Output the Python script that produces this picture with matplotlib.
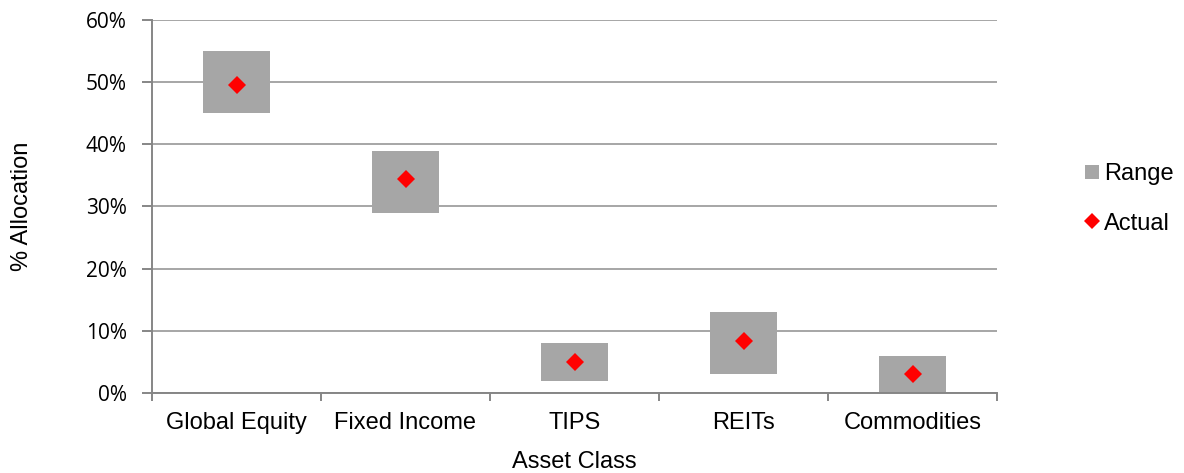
import matplotlib
matplotlib.use("Agg")
import matplotlib.pyplot as plt
from matplotlib.ticker import FuncFormatter, FixedLocator
from matplotlib.lines import Line2D

# Target allocation ranges and actual weights (percent)
categories = ["Global Equity", "Fixed Income", "TIPS", "REITs", "Commodities"]
range_low = [45, 29, 2, 3, 0]
range_high = [55, 39, 8, 13, 6]
actual = [49.5, 34.4, 5.0, 8.3, 3.1]

box_color = "#A6A6A6"
grid_color = "#A6A6A6"
spine_color = "#868686"

fig = plt.figure(figsize=(11.84, 4.73), dpi=100)
ax = fig.add_axes([152 / 1184, 80 / 473, (997 - 152) / 1184, (393 - 20) / 473])

x = list(range(len(categories)))
heights = [h - l for h, l in zip(range_high, range_low)]
ax.bar(x, heights, bottom=range_low, width=0.4, color=box_color,
       edgecolor="none", zorder=2)
ax.plot(x, actual, linestyle="none", marker="D", markersize=9.2,
        color="#FF0000", markeredgewidth=0, zorder=3)

ax.set_xlim(-0.5, len(categories) - 0.5)
ax.set_ylim(0, 60)
ax.set_yticks(range(0, 61, 10))
ax.yaxis.set_major_formatter(FuncFormatter(lambda v, _: f"{v:.0f}%"))
ax.grid(axis="y", color=grid_color, linewidth=1.4, zorder=0)
ax.set_axisbelow(True)

# category labels between boundary ticks
ax.set_xticks(x)
ax.set_xticklabels(categories, fontsize=17, family="Liberation Sans")
ax.tick_params(axis="x", which="major", length=0, pad=14)
ax.xaxis.set_minor_locator(FixedLocator([i + 0.5 for i in range(-1, len(categories))]))
ax.tick_params(axis="x", which="minor", length=6, width=1.4, color=spine_color)

ax.tick_params(axis="y", length=7, width=1.4, color=spine_color, pad=11,
               labelsize=15)
for lbl in ax.get_yticklabels():
    lbl.set_family("Open Sans")

for side in ("top", "right"):
    ax.spines[side].set_visible(False)
for side in ("left", "bottom"):
    ax.spines[side].set_color(spine_color)
    ax.spines[side].set_linewidth(1.4)

ax.set_xlabel("Asset Class", fontsize=17, family="Liberation Sans", labelpad=12)
ax.set_ylabel("% Allocation", fontsize=17, family="Liberation Sans", labelpad=38)

handles = [
    Line2D([], [], linestyle="none", marker="s", markersize=10.5,
           color=box_color, markeredgewidth=0, label="Range"),
    Line2D([], [], linestyle="none", marker="D", markersize=8.5,
           color="#FF0000", markeredgewidth=0, label="Actual"),
]
fig.legend(handles=handles, loc="center left", bbox_to_anchor=(1072 / 1184, 1 - 199 / 473),
           frameon=False, prop={"family": "Liberation Sans", "size": 17},
           handlelength=0.7, handletextpad=0.15, labelspacing=1.15, borderpad=0)

fig.savefig("out.png", dpi=100)
